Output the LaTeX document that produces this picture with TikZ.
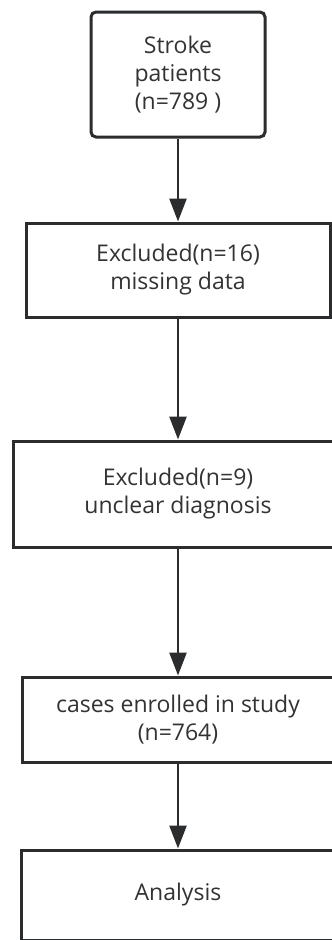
\documentclass[tikz,border=0pt]{standalone}
\usepackage{fontspec}
\setmainfont{Open Sans}
\usepackage{tikz}
\usetikzlibrary{arrows.meta}
\definecolor{linegray}{HTML}{2A2C2E}
\definecolor{textgray}{HTML}{333333}

\begin{document}
\begin{tikzpicture}[x=1pt, y=-1pt,
    box/.style={draw=linegray, fill=white, line width=3pt, align=center,
      text=textgray, inner sep=0pt, font=\fontsize{23}{28}\selectfont},
    flow/.style={draw=linegray, line width=2.6pt,
      -{Triangle[width=17pt,length=23pt]}}]
    \def\cx{178}
    \fill[white] (0,0) rectangle (332,940);
    \useasboundingbox (0,0) rectangle (332,940);
    % boxes below run past the right edge of the page
    \clip (0,0) rectangle (332,940);
    \node[box, rounded corners=5pt, minimum width=174pt, minimum height=125pt]
      (stroke) at (\cx,74.5) {Stroke\\patients\\(n=789 )};
    \node[box, minimum width=304pt, minimum height=94pt]
      (missing) at (\cx,270) {Excluded(n=16)\\missing data};
    \node[box, minimum width=330pt, minimum height=106pt]
      (unclear) at (\cx,494) {Excluded(n=9)\\unclear diagnosis};
    \node[box, minimum width=312pt, minimum height=85pt]
      (enrolled) at (\cx,719.5) {cases enrolled in study\\(n=764)};
    \node[box, minimum width=314pt, minimum height=90pt]
      (analysis) at (\cx,895) {Analysis};
    \draw[flow] (stroke) -- (missing);
    \draw[flow] (missing) -- (unclear);
    \draw[flow] (unclear) -- (enrolled);
    \draw[flow] (enrolled) -- (analysis);
\end{tikzpicture}
\end{document}
